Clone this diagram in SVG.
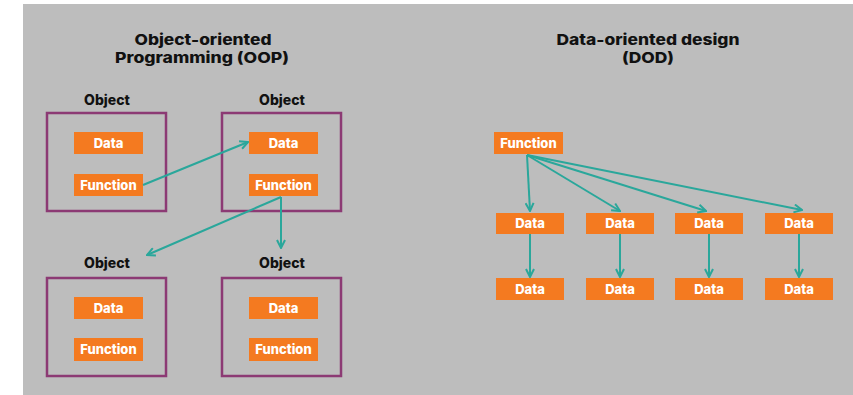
<svg xmlns="http://www.w3.org/2000/svg" width="853" height="395" viewBox="0 0 853 395">
<style>
text{font-family:Inter,"Liberation Sans",Arial,sans-serif;font-weight:800;text-anchor:middle}
.title{font-size:15px;fill:#111}
.lbl{font-size:14px;fill:#111}
.obj{fill:none;stroke:#8c3a74;stroke-width:2.5}
.box{fill:#f47a20}
.bt{font-size:13px;fill:#fff}
.con line{stroke:#2aa79b;stroke-width:2;fill:none}
</style>
<defs>
<marker id="ah" viewBox="0 0 10 10" refX="9" refY="5" markerWidth="10" markerHeight="10" markerUnits="userSpaceOnUse" orient="auto">
<path d="M1,1 L9,5 L1,9" fill="none" stroke="#2aa79b" stroke-width="2"/>
</marker>
</defs>
<rect x="0" y="0" width="853" height="395" fill="#ffffff"/>
<rect x="23" y="4" width="830" height="391" fill="#bdbdbd"/>
<g id="oop-title"><text class="title" x="203" y="44.5" textLength="137" lengthAdjust="spacingAndGlyphs">Object-oriented</text><text class="title" x="202" y="63" textLength="174" lengthAdjust="spacingAndGlyphs">Programming (OOP)</text></g>
<g id="dod-title"><text class="title" x="648" y="44.5" textLength="183" lengthAdjust="spacingAndGlyphs">Data-oriented design</text><text class="title" x="648" y="63" textLength="52" lengthAdjust="spacingAndGlyphs">(DOD)</text></g>
<g id="object1">
<text class="lbl" x="107" y="105">Object</text>
<rect class="obj" x="47" y="113" width="119" height="98"/>
<rect class="box" x="74" y="132" width="69" height="22"/><text class="bt" x="108.5" y="147.5">Data</text>
<rect class="box" x="74" y="174" width="69" height="22"/><text class="bt" x="108.5" y="189.5">Function</text>
</g>
<g id="object2">
<text class="lbl" x="282" y="105">Object</text>
<rect class="obj" x="222" y="113" width="119" height="98"/>
<rect class="box" x="249" y="132" width="69" height="22"/><text class="bt" x="283.5" y="147.5">Data</text>
<rect class="box" x="249" y="174" width="69" height="22"/><text class="bt" x="283.5" y="189.5">Function</text>
</g>
<g id="object3">
<text class="lbl" x="107" y="268">Object</text>
<rect class="obj" x="47" y="278" width="119" height="98"/>
<rect class="box" x="74" y="297" width="69" height="22"/><text class="bt" x="108.5" y="312.5">Data</text>
<rect class="box" x="74" y="338" width="69" height="23"/><text class="bt" x="108.5" y="354">Function</text>
</g>
<g id="object4">
<text class="lbl" x="282" y="268">Object</text>
<rect class="obj" x="222" y="278" width="119" height="98"/>
<rect class="box" x="249" y="297" width="69" height="22"/><text class="bt" x="283.5" y="312.5">Data</text>
<rect class="box" x="249" y="338" width="69" height="23"/><text class="bt" x="283.5" y="354">Function</text>
</g>
<g id="dod-function"><rect class="box" x="494" y="132" width="69" height="22"/><text class="bt" x="528.5" y="147.5">Function</text></g>
<g id="dod-data1a"><rect class="box" x="496" y="213" width="68" height="21"/><text class="bt" x="530" y="228">Data</text></g>
<g id="dod-data2a"><rect class="box" x="586" y="213" width="68" height="21"/><text class="bt" x="620" y="228">Data</text></g>
<g id="dod-data3a"><rect class="box" x="675" y="213" width="68" height="21"/><text class="bt" x="709" y="228">Data</text></g>
<g id="dod-data4a"><rect class="box" x="765" y="213" width="68" height="21"/><text class="bt" x="799" y="228">Data</text></g>
<g id="dod-data1b"><rect class="box" x="496" y="278" width="68" height="22"/><text class="bt" x="530" y="293.5">Data</text></g>
<g id="dod-data2b"><rect class="box" x="586" y="278" width="68" height="22"/><text class="bt" x="620" y="293.5">Data</text></g>
<g id="dod-data3b"><rect class="box" x="675" y="278" width="68" height="22"/><text class="bt" x="709" y="293.5">Data</text></g>
<g id="dod-data4b"><rect class="box" x="765" y="278" width="68" height="22"/><text class="bt" x="799" y="293.5">Data</text></g>
<g id="connectors" class="con">
<line x1="143" y1="185" x2="248" y2="142" marker-end="url(#ah)"/>
<line x1="281" y1="197" x2="147" y2="255" marker-end="url(#ah)"/>
<line x1="281" y1="197" x2="281" y2="248" marker-end="url(#ah)"/>
<line x1="527" y1="155" x2="530" y2="211" marker-end="url(#ah)"/>
<line x1="527" y1="155" x2="620" y2="211" marker-end="url(#ah)"/>
<line x1="527" y1="155" x2="706" y2="211" marker-end="url(#ah)"/>
<line x1="527" y1="155" x2="802" y2="210" marker-end="url(#ah)"/>
<line x1="530" y1="234" x2="530" y2="277" marker-end="url(#ah)"/>
<line x1="620" y1="234" x2="620" y2="277" marker-end="url(#ah)"/>
<line x1="709" y1="234" x2="709" y2="277" marker-end="url(#ah)"/>
<line x1="799" y1="234" x2="799" y2="277" marker-end="url(#ah)"/>
</g>
</svg>
